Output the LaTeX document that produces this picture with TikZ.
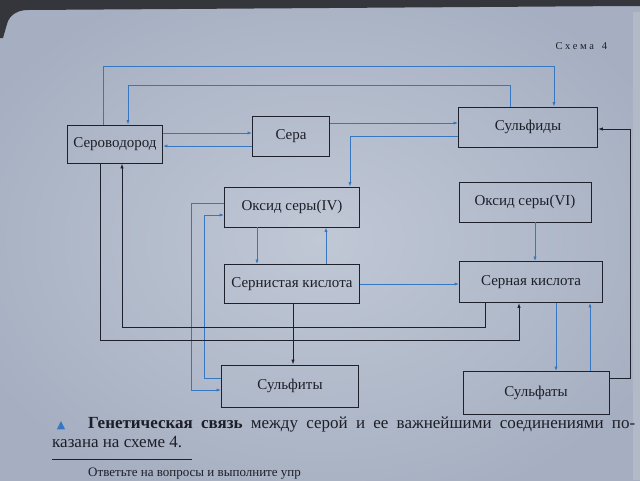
\documentclass[tikz,border=0pt]{standalone}
\usepackage{fontspec}
\setmainfont{Liberation Serif}
\newfontfamily\symfnt{DejaVu Sans}
\usetikzlibrary{arrows.meta}
\definecolor{paper}{RGB}{192,200,214}
\definecolor{paperedge}{RGB}{166,175,193}
\definecolor{paperdark}{RGB}{52,54,60}
\definecolor{otherpage}{RGB}{178,186,200}
\definecolor{bluec}{RGB}{55,118,192}
\definecolor{boxc}{RGB}{30,32,44}
\definecolor{textc}{RGB}{28,30,40}
\tikzset{
  box/.style={draw=boxc, line width=0.9pt, minimum height=40pt, inner sep=0pt,
              font=\fontsize{15}{17}\selectfont, text=textc},
  bl/.style={draw=bluec, line width=0.8pt, -{Latex[length=4.5pt,width=3.2pt]}},
  bk/.style={draw=boxc, line width=0.9pt, -{Latex[length=5pt,width=3.5pt]}},
}
\begin{document}
\begin{tikzpicture}[x=1pt,y=-1pt]
\useasboundingbox (0,0) rectangle (640,480);
\clip (0,0) rectangle (640,480);
\shade[inner color=paper, outer color=paperedge] (-60,-40) rectangle (700,520);
\fill[otherpage] (633,12) rectangle (640,480);
\fill[paperdark] (0,0) -- (640,0) -- (640,6) -- (630,6) -- (28,10)
   to[out=180,in=75] (7,24) -- (3,38) -- (0,38) -- cycle;

% nodes
\node[box, minimum width=95pt, minimum height=38pt] (hs) at (115,144) {Сероводород};
\node[box, minimum width=77pt] (s) at (291,136) {Сера};
\node[box, minimum width=139pt] (sulfid) at (528,127) {Сульфиды};
\node[box, minimum width=135pt] (so2) at (292,207) {Оксид серы(IV)};
\node[box, minimum width=132pt] (so3) at (525,202) {Оксид серы(VI)};
\node[box, minimum width=135pt, minimum height=39pt] (h2so3) at (292,284) {Сернистая кислота};
\node[box, minimum width=143pt, minimum height=41pt] (h2so4) at (531,282) {Серная кислота};
\node[box, minimum width=137pt, minimum height=42pt] (sulfit) at (290,386) {Сульфиты};
\node[box, minimum width=146pt, minimum height=43pt] (sulfat) at (536,393) {Сульфаты};

% connectors
\draw[bl] (hs.north -| 103,0) -- (103,66) -- (554,66) -- (sulfid.north -| 554,0);
\draw[bl] (sulfid.north -| 510,0) -- (510,85) -- (128,85) -- (hs.north -| 128,0);
\draw[bl] (hs.east |- 0,133) -- (s.west |- 0,133);
\draw[bl] (s.west |- 0,146) -- (hs.east |- 0,146);
\draw[bl] (s.east |- 0,123) -- (sulfid.west |- 0,123);
\draw[bl] (sulfid.west |- 0,136) -- (350,136) -- (so2.north -| 350,0);
\draw[bl] (so2.south -| 257,0) -- (h2so3.north -| 257,0);
\draw[bl] (h2so3.north -| 326,0) -- (so2.south -| 326,0);
\draw[bl] (so3.south -| 535,0) -- (h2so4.north -| 535,0);
\draw[bl] (h2so3.east |- 0,284) -- (h2so4.west |- 0,284);
\draw[bk] (h2so3.south -| 293,0) -- (sulfit.north -| 293,0);
\draw[bl] (so2.west |- 0,203) -- (191,203) -- (191,390) -- (sulfit.west |- 0,390);
\draw[bl] (sulfit.west |- 0,378) -- (204,378) -- (204,215) -- (so2.west |- 0,215);
\draw[bk] (hs.south -| 100,0) -- (100,340) -- (519,340) -- (h2so4.south -| 519,0);
\draw[bk] (h2so4.south -| 485,0) -- (485,327) -- (122,327) -- (hs.south -| 122,0);
\draw[bl] (h2so4.south -| 556,0) -- (sulfat.north -| 556,0);
\draw[bl] (sulfat.north -| 590,0) -- (h2so4.south -| 590,0);
\draw[bk] (sulfat.east |- 0,378) -- (630,378) -- (630,129) -- (sulfid.east |- 0,129);

% texts
\node[anchor=base west, text=textc, font=\fontsize{10.5}{12}\selectfont\addfontfeature{LetterSpace=25}] (cap) at (552,49) {Схема\hspace{8pt}4};
\node[anchor=base, text=bluec, font=\symfnt\fontsize{11}{12}\selectfont] (tri) at (61,428) {▲};
\node[anchor=base west, inner sep=0pt, text=textc, font=\fontsize{17}{20}\selectfont] (l1) at (88,428)
  {\makebox[547pt][s]{\textbf{Генетическая связь} между серой и ее важнейшими соединениями по-}};
\node[anchor=base west, inner sep=0pt, text=textc, font=\fontsize{17}{20}\selectfont] (l2) at (52,447)
  {казана на схеме 4.};
\draw[line width=0.7pt, draw=boxc] (52,459) -- (192,459);
\node[anchor=base west, inner sep=0pt, text=textc, font=\fontsize{13}{15}\selectfont] (l3) at (88,476)
  {Ответьте на вопросы и выполните упр};
\end{tikzpicture}
\end{document}
